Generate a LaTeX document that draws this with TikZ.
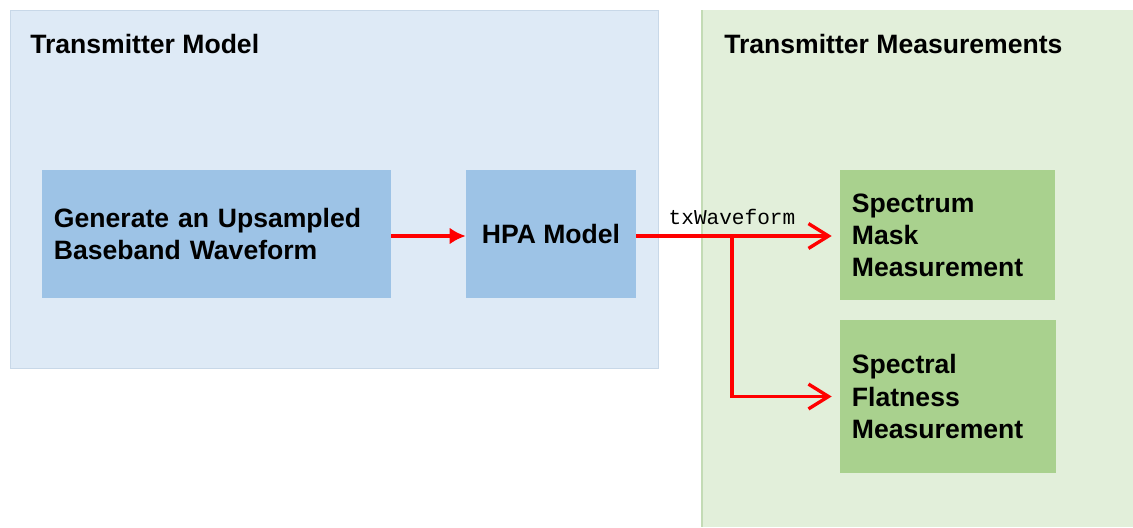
\documentclass[tikz,border=0pt]{standalone}
\usepackage{fontspec}
\setmainfont{Liberation Sans}
\setmonofont{Liberation Mono}
\usepackage{xcolor}
\usepackage{tikz}
\usetikzlibrary{arrows.meta,positioning}
\definecolor{txpanel}{HTML}{DEEAF6}
\definecolor{txedge}{HTML}{C8D8E8}
\definecolor{mspanel}{HTML}{E2EFDA}
\definecolor{msedge}{HTML}{C3DBB5}
\definecolor{txblock}{HTML}{9DC3E6}
\definecolor{msblock}{HTML}{A9D18E}
\definecolor{sigred}{HTML}{FF0000}

\begin{document}
\begin{tikzpicture}[
x=0.025cm,y=-0.025cm,
panel/.style={rectangle,anchor=north west,inner sep=0pt},
title/.style={anchor=west,inner sep=0pt,font=\fontsize{18.9}{22.8}\selectfont\bfseries},
block/.style={rectangle,inner xsep=0.3cm,inner ysep=0pt,align=left,font=\fontsize{18.9}{22.8}\selectfont\bfseries},
lbl/.style={font=\fontsize{15}{18}\selectfont\ttfamily,inner sep=1pt},
sig/.style={line width=2.7pt,sigred},
fillarr/.style={sig,-{Latex[length=0.4cm,width=0.42cm]}},
openarr/.style={sig,-{Straight Barb[length=0.5cm,width=0.62cm,line width=2.4pt]},shorten >=0.2cm}
]
\useasboundingbox (0,0) rectangle (1133,527);
% panels
\node[panel,fill=txpanel,draw=txedge,minimum width=16.2cm,minimum height=8.95cm] (txp) at (10,10) {};
\fill[mspanel] (702,10) rectangle (1133,527);
\draw[msedge,line width=0.8pt] (702,10) -- (702,527);
\node[title] (txt) at (30,44) {Transmitter Model};
\node[title] (mst) at (724,44) {Transmitter Measurements};
% blocks
\node[block,fill=txblock,text width=8.125cm,minimum height=3.2cm] (gen) at (216.5,234) {Generate an Upsampled\\Baseband Waveform};
\node[block,fill=txblock,align=center,minimum width=4.25cm,minimum height=3.2cm] (hpa) at (551,234) {HPA Model};
\node[block,fill=msblock,text width=4.775cm,minimum height=3.25cm] (mask) at (947.5,235) {Spectrum\\Mask\\Measurement};
\node[block,fill=msblock,text width=4.8cm,minimum height=3.825cm] (flat) at (948,396.5) {Spectral\\Flatness\\Measurement};
% signal
\coordinate (split) at (732,236);
\node[lbl,above=7pt of split] (wave) {txWaveform};
\draw[fillarr] (gen.east |- split) -- (hpa.west |- split);
\draw[openarr] (hpa.east |- split) -- (mask.west |- split);
\draw[openarr] (split) |- (flat.west);
\end{tikzpicture}
\end{document}
